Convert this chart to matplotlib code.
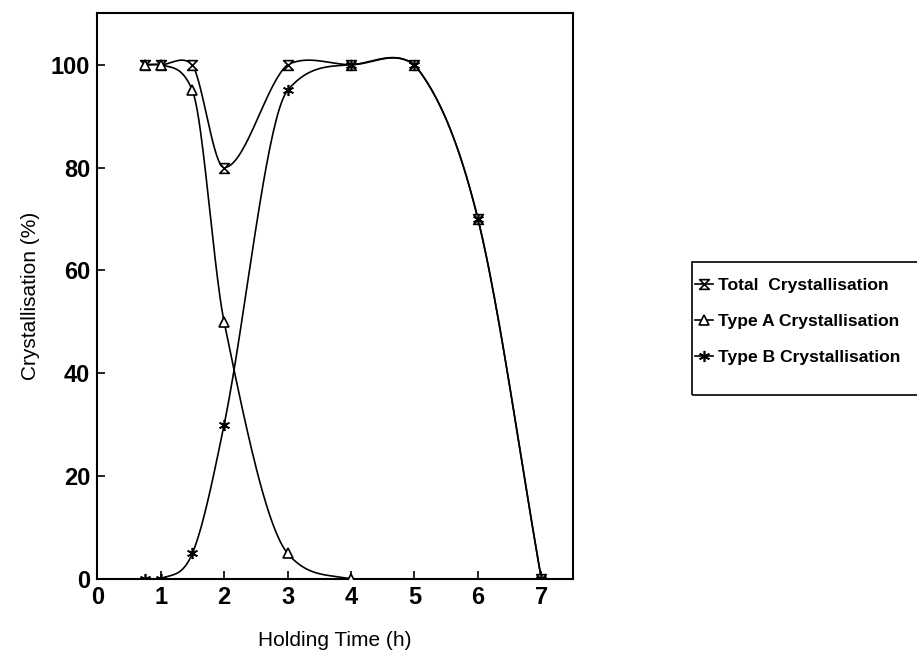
import numpy as np
import matplotlib
matplotlib.use("Agg")
import matplotlib.pyplot as plt
from matplotlib.path import Path
from matplotlib.patches import Rectangle

plt.rcParams['font.family'] = ['Liberation Sans', 'DejaVu Sans']

# holding time (h) and crystallisation (%)
t_total = [0.75, 1, 1.5, 2, 3, 4, 5, 6, 7]
total = [100, 100, 100, 80, 100, 100, 100, 70, 0]

t_a = [0.75, 1, 1.5, 2, 3, 4]
type_a = [100, 100, 95, 50, 5, 0]

t_b = [0.75, 1, 1.5, 2, 3, 4, 5, 6, 7]
type_b = [0, 0, 5, 30, 95, 100, 100, 70, 0]


def smooth(x, y, n=40):
    # Catmull-Rom style hermite curve through the points, tangents limited
    # on monotone segments so the curve doesn't overshoot there
    x = np.asarray(x, float)
    y = np.asarray(y, float)
    h = np.diff(x)
    d = np.diff(y) / h
    k = len(x)
    m = np.zeros(k)
    m[0] = d[0]
    m[-1] = d[-1]
    for i in range(1, k - 1):
        m[i] = (y[i + 1] - y[i - 1]) / (x[i + 1] - x[i - 1])
    for i in range(k - 1):
        if d[i] == 0:
            continue
        a = m[i] / d[i]
        b = m[i + 1] / d[i]
        if a < 0:
            m[i] = 0
            a = 0
        if b < 0:
            m[i + 1] = 0
            b = 0
        r = a * a + b * b
        if r > 9:
            tau = 3 / np.sqrt(r)
            m[i] = tau * a * d[i]
            m[i + 1] = tau * b * d[i]
    xs, ys = [], []
    for i in range(k - 1):
        m0, m1 = m[i], m[i + 1]
        if d[i] == 0:
            # flatter bulge on level stretches
            m0, m1 = 0.6 * m0, 0.6 * m1
        u = np.linspace(0, 1, n)
        h00 = 2 * u ** 3 - 3 * u ** 2 + 1
        h10 = u ** 3 - 2 * u ** 2 + u
        h01 = -2 * u ** 3 + 3 * u ** 2
        h11 = u ** 3 - u ** 2
        xs.append(x[i] + u * h[i])
        ys.append(h00 * y[i] + h10 * h[i] * m0 + h01 * y[i + 1] + h11 * h[i] * m1)
    return np.concatenate(xs), np.concatenate(ys)


# hourglass marker
hourglass = Path([(-1, 1), (1, 1), (-1, -1), (1, -1), (-1, 1)],
                 [Path.MOVETO, Path.LINETO, Path.LINETO, Path.LINETO, Path.CLOSEPOLY])

fig = plt.figure(figsize=(9.17, 6.64), dpi=100)
ax = fig.add_axes([0.106, 0.128, 0.519, 0.852])

lw = 1.2
series = [
    (t_total, total, dict(marker=hourglass, ms=7), 'Total  Crystallisation'),
    (t_a, type_a, dict(marker='^', ms=7), 'Type A Crystallisation'),
    (t_b, type_b, dict(marker=(6, 2, 0), ms=8), 'Type B Crystallisation'),
]
handles = []
for x, y, mk, lab in series:
    sx, sy = smooth(x, y)
    ax.plot(sx, sy, color='black', lw=lw)
    ax.plot(x, y, ls='none', color='black', mfc='white', mec='black', mew=1.2, zorder=3, **mk)
    h, = ax.plot([], [], color='black', lw=lw, mfc='white', mec='black', mew=1.2, label=lab, **mk)
    handles.append(h)

ax.set_xlim(0, 7.5)
ax.set_ylim(0, 110)
ax.set_xticks(range(0, 8))
ax.set_yticks(range(0, 101, 20))
ax.tick_params(direction='in', length=6, width=1.2, labelsize=17, pad=5)
for lbl in ax.get_xticklabels() + ax.get_yticklabels():
    lbl.set_fontweight('bold')
for s in ax.spines.values():
    s.set_linewidth(1.5)

ax.set_xlabel('Holding Time (h)', fontsize=15, labelpad=16)
ax.set_ylabel('Crystallisation (%)', fontsize=15, labelpad=8)

# legend entries without frame, box drawn separately
fig.legend(handles=handles, loc='upper left', bbox_to_anchor=(0.758, 0.582),
           prop={'weight': 'bold', 'size': 12.6}, handlelength=1.0,
           handletextpad=0.3, labelspacing=1.2, borderpad=0,
           borderaxespad=0, frameon=False)
fig.patches.append(Rectangle((0.7546, 0.405), 0.3, 0.2003, transform=fig.transFigure,
                             fill=False, edgecolor='black', linewidth=1.2))

fig.savefig('out.png', dpi=100, facecolor='white')
